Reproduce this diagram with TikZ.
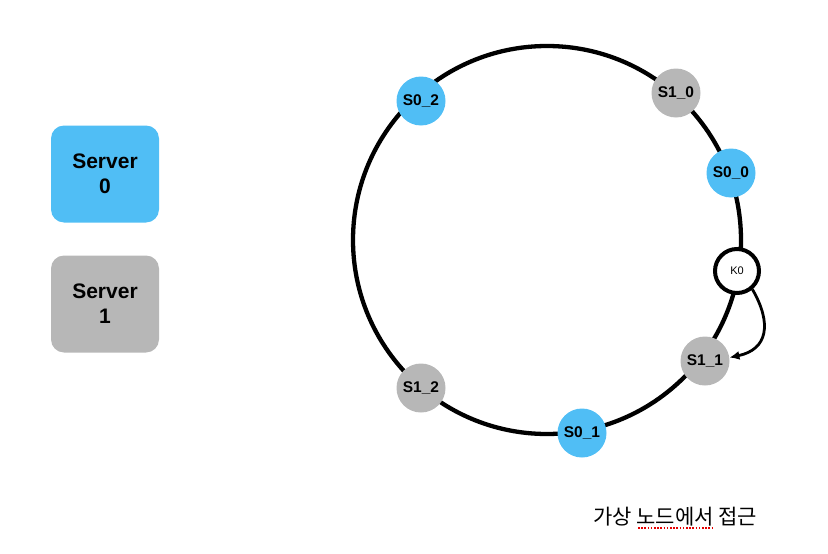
\documentclass[tikz,border=0pt]{standalone}
\usepackage{fontspec}
\setmainfont{Liberation Sans}
\newfontfamily\kr{Noto Sans CJK KR}
\usetikzlibrary{scopes,arrows.meta}
\definecolor{sblue}{RGB}{80,190,245}
\definecolor{sgray}{RGB}{183,183,183}

\begin{document}
\begin{tikzpicture}[
    x=1pt,y=-1pt,
    srv/.style={rounded corners=13pt,minimum width=108pt,minimum height=97pt,align=center,
        font=\fontsize{21}{25}\selectfont\bfseries},
    vn/.style={circle,minimum size=49pt,inner sep=0pt,font=\fontsize{15.5}{18}\selectfont\bfseries},
    key/.style={circle,draw=black,fill=white,line width=4pt,minimum size=44pt,inner sep=0pt,
        font=\fontsize{11}{13}\selectfont},
    hop/.style={>={Latex[length=10pt,width=9pt]},line width=2.8pt},
]
    \useasboundingbox (0,0) rectangle (828,554);
    \node[srv,fill=sblue] (server0) at (105,174) {Server\\0};
    \node[srv,fill=sgray] (server1) at (105,304) {Server\\1};
    \draw[line width=4.3pt] (547,240) circle[radius=194];
    \node[vn,fill=sblue] (s02) at (421,101) {S0\_2};
    \node[vn,fill=sgray] (s10) at (676,93) {S1\_0};
    \node[vn,fill=sblue] (s00) at (731,173) {S0\_0};
    \node[key] (k0) at (737,271) {K0};
    \node[vn,fill=sgray] (s11) at (705,361) {S1\_1};
    \node[vn,fill=sblue] (s01) at (582,433) {S0\_1};
    \node[vn,fill=sgray] (s12) at (421,388) {S1\_2};
    {[hop,->]
        \draw (k0.-50) to[out=-60,in=12,looseness=1.4] (s11.8);
    }
    \node[font=\kr\fontsize{21}{25}\selectfont] (title) at (675,517) {가상 노드에서 접근};
    \draw[red!90!black,line width=1.6pt,dash pattern=on 1.6pt off 1.6pt] (638,528) -- (714,528);
\end{tikzpicture}
\end{document}
